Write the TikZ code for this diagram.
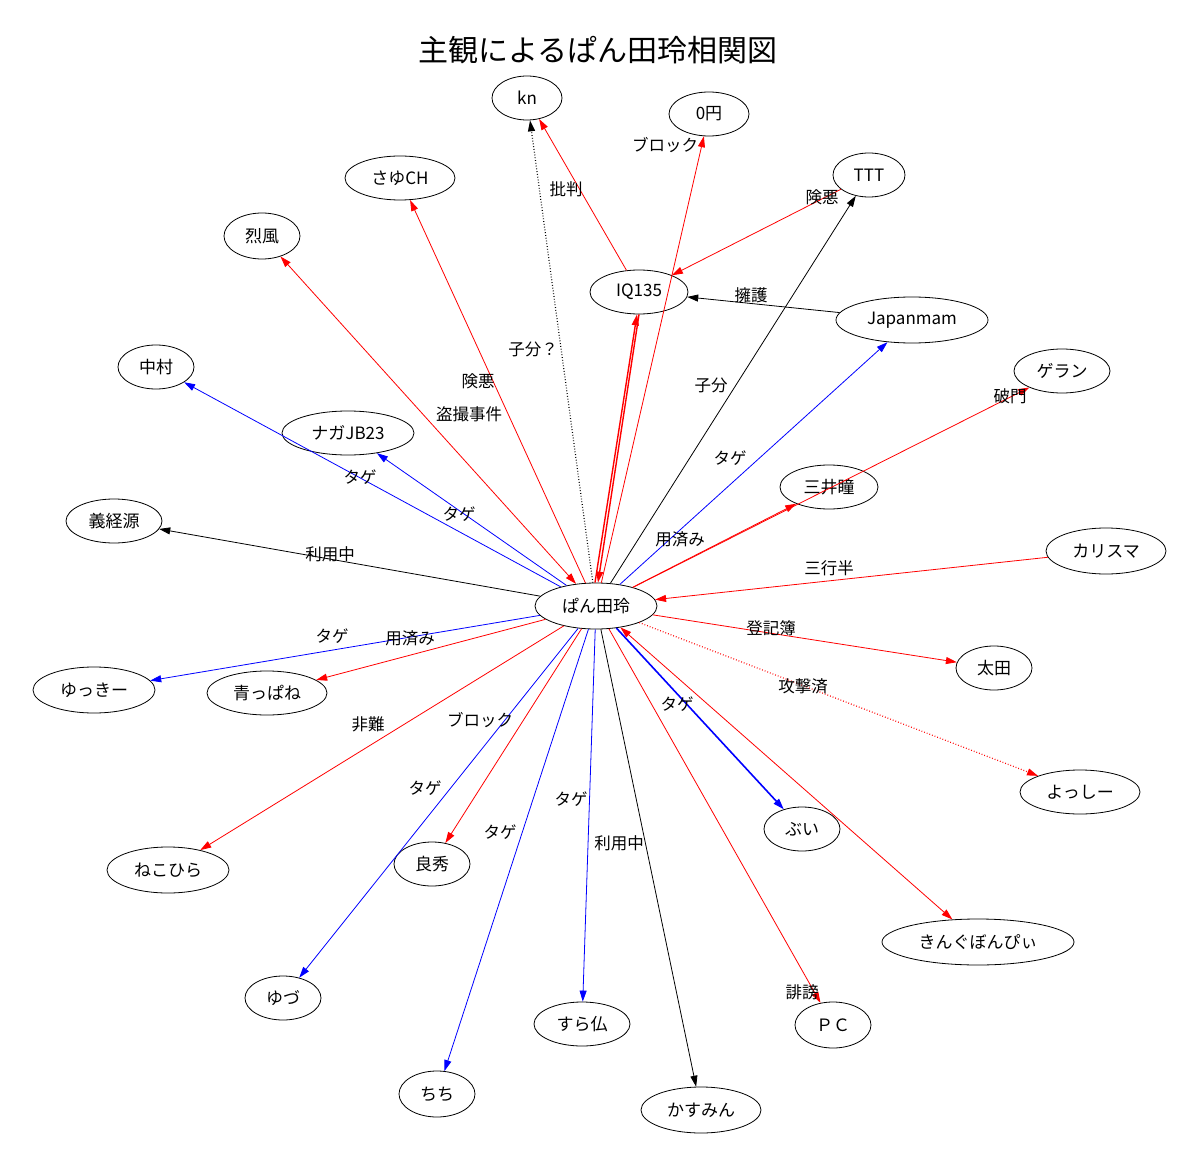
\documentclass[tikz,border=0pt]{standalone}
\usepackage{fontspec}
\setmainfont{Noto Sans CJK JP}
\usetikzlibrary{arrows.meta,shapes.geometric}
\begin{document}
\begin{tikzpicture}[x=1pt,y=-1pt,
 nd/.style={draw,ellipse,thick,inner sep=0pt,font=\fontsize{17}{17}\selectfont},
 lb/.style={font=\fontsize{16.5}{17}\selectfont,inner sep=0pt},
 e/.style={-{Triangle[length=11pt,width=7pt]}},
 rd/.style={e,red,thick},
 bl/.style={e,blue,thick},
 bk/.style={e,black,thick}]
\useasboundingbox (0,0) rectangle (1200,1169);
\node[font=\fontsize{30}{31}\selectfont] (title) at (598,50) {主観によるぱん田玲相関図};
\newcommand{\N}[5]{\node[nd,minimum width=#4pt,minimum height=#5pt] (#1) at (#2) {#3};}
\N{c}{596,606}{ぱん田玲}{122}{46}
\N{kn}{527,98}{kn}{70}{44}
\N{en}{709,114}{0円}{80}{44}
\N{sayu}{400,178}{さゆCH}{110}{44}
\N{ttt}{869,175}{TTT}{72}{44}
\N{reppu}{262,236}{烈風}{76}{46}
\N{iq}{639,292}{IQ135}{98}{44}
\N{jm}{912,320}{Japanmam}{152}{46}
\N{naka}{156,367}{中村}{76}{44}
\N{geran}{1062,371}{ゲラン}{96}{44}
\N{naga}{348,433}{ナガJB23}{132}{44}
\N{mitsui}{829,487}{三井瞳}{98}{44}
\N{yoshi}{114,521}{義経源}{96}{44}
\N{kari}{1106,551}{カリスマ}{120}{46}
\N{yukki}{94,690}{ゆっきー}{122}{46}
\N{aoppa}{267,693}{青っぱね}{120}{44}
\N{ota}{994,668}{太田}{76}{44}
\N{yossi}{1080,792}{よっしー}{120}{44}
\N{bui}{802,829}{ぶい}{76}{44}
\N{neko}{168,870}{ねこひら}{122}{46}
\N{yoshihide}{432,864}{良秀}{76}{44}
\N{king}{978,942}{きんぐぼんぴぃ}{192}{46}
\N{yuzu}{283,998}{ゆづ}{76}{44}
\N{sura}{582,1024}{すら仏}{96}{44}
\N{pc}{833,1025}{ＰＣ}{76}{46}
\N{chichi}{437,1094}{ちち}{76}{46}
\N{kasu}{701,1110}{かすみん}{120}{46}
% edges
\draw[bk,dotted,line width=1.2pt] (c) -- (kn);
\draw[rd] (iq) -- (kn);
\draw[rd] (c) -- (en);
\draw[rd] (c) -- (sayu);
\draw[rd] (ttt) -- (iq);
\draw[bk] (c) -- (ttt);
\draw[rd,{Triangle[length=11pt,width=7pt]}-{Triangle[length=11pt,width=7pt]}] (c) -- (reppu);
\draw[rd,line width=1.4pt] ([xshift=-1pt]c.north) -- ([xshift=-2pt]iq.south);
\draw[rd,line width=1.4pt] (iq.south) -- ([xshift=2pt]c.north);
\draw[bk] (jm) -- (iq);
\draw[bl] (c) -- (jm);
\draw[bl] (c) -- (naka);
\draw[rd] (c) -- (geran);
\draw[bl] (c) -- (naga);
\draw[rd] (c) -- (mitsui);
\draw[bk] (c) -- (yoshi);
\draw[rd] (kari) -- (c);
\draw[bl] (c) -- (yukki);
\draw[rd] (c) -- (aoppa);
\draw[rd] (c) -- (ota);
\draw[rd,dotted,line width=1.2pt] (c) -- (yossi);
\draw[bl,line width=1.6pt] (c) -- (bui);
\draw[rd,{Triangle[length=11pt,width=7pt]}-{Triangle[length=11pt,width=7pt]}] (c) -- (king);
\draw[rd] (c) -- (neko);
\draw[rd] (c) -- (yoshihide);
\draw[bl] (c) -- (yuzu);
\draw[bl] (c) -- (chichi);
\draw[bl] (c) -- (sura);
\draw[bk] (c) -- (kasu);
\draw[rd] (c) -- (pc);
% labels
\node[lb] (l1) at (533,349) {子分？};
\node[lb] (l2) at (566,189) {批判};
\node[lb] (l3) at (665,145) {ブロック};
\node[lb] (l4) at (478,381) {険悪};
\node[lb] (l5) at (822,197) {険悪};
\node[lb] (l6) at (711,385) {子分};
\node[lb] (l7) at (469,414) {盗撮事件};
\node[lb] (l8) at (751,295) {擁護};
\node[lb] (l9) at (730,458) {タゲ};
\node[lb] (l10) at (360,477) {タゲ};
\node[lb] (l11) at (1010,396) {破門};
\node[lb] (l12) at (459,514) {タゲ};
\node[lb] (l13) at (680,539) {用済み};
\node[lb] (l14) at (330,554) {利用中};
\node[lb] (l15) at (829,568) {三行半};
\node[lb] (l16) at (332,636) {タゲ};
\node[lb] (l17) at (410,638) {用済み};
\node[lb] (l18) at (771,628) {登記簿};
\node[lb] (l19) at (803,686) {攻撃済};
\node[lb] (l20) at (677,704) {タゲ};
\node[lb] (l21) at (368,724) {非難};
\node[lb] (l22) at (480,720) {ブロック};
\node[lb] (l23) at (425,788) {タゲ};
\node[lb] (l24) at (500,832) {タゲ};
\node[lb] (l25) at (571,799) {タゲ};
\node[lb] (l26) at (619,843) {利用中};
\node[lb] (l27) at (802,992) {誹謗};
\end{tikzpicture}
\end{document}
